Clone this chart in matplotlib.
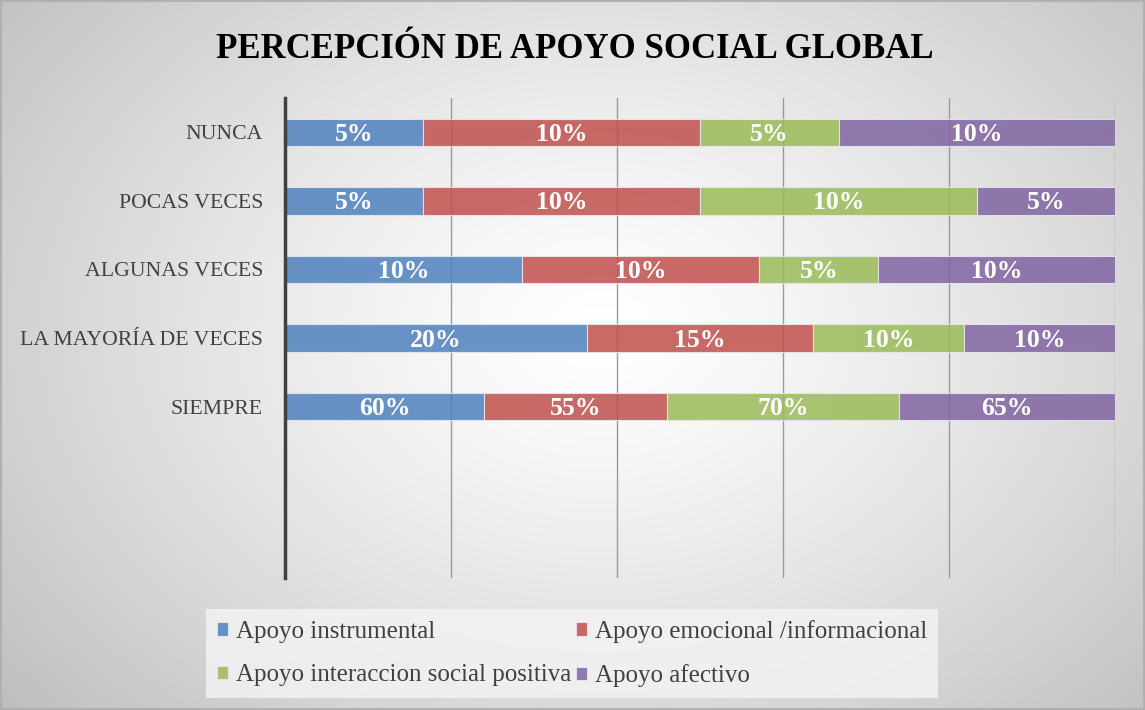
import numpy as np
import matplotlib.pyplot as plt

categorias = ["NUNCA", "POCAS VECES", "ALGUNAS VECES", "LA MAYORÍA DE VECES", "SIEMPRE"]
series = ["Apoyo instrumental", "Apoyo emocional /informacional",
          "Apoyo interaccion social positiva", "Apoyo afectivo"]
instrumental = [5, 5, 10, 20, 60]
emocional = [10, 10, 10, 15, 55]
interaccion = [5, 10, 5, 10, 70]
afectivo = [10, 5, 10, 10, 65]

colores = ["#4F81BD", "#C0504D", "#9BBB59", "#8064A2"]
serif = ["Liberation Serif", "DejaVu Serif"]

valores = np.array([instrumental, emocional, interaccion, afectivo], dtype=float)
totales = valores.sum(axis=0)
partes = valores / totales

fig = plt.figure(figsize=(11.45, 7.10), dpi=100)

# fondo con degradado radial
bg = fig.add_axes([0, 0, 1, 1], zorder=-10)
yy, xx = np.mgrid[0:710, 0:1145]
d = np.sqrt(((xx - 600) / 700.0) ** 2 + ((yy - 330) / 520.0) ** 2)
g = np.clip(1.0 - 0.22 * d ** 1.3, 0, 1)
bg.imshow(np.dstack([g, g, g]), aspect="auto", extent=[0, 1, 0, 1])
bg.axis("off")
bg.add_patch(plt.Rectangle((0.0005, 0.001), 0.999, 0.998, fill=False,
                           edgecolor="#b0b0b0", lw=1.5, transform=bg.transAxes))

ax = fig.add_axes([0.249, 0.186, 0.725, 0.676])
ax.patch.set_alpha(0)

# posiciones: 7 ranuras, las dos de abajo vacías
pos = np.arange(len(categorias))[::-1] + 2
izq = np.zeros(len(categorias))
barras = []
for i in range(len(series)):
    b = ax.barh(pos, partes[i], left=izq, height=0.4, color=colores[i], alpha=0.85,
                edgecolor="#e8e8f0", linewidth=0.8, label=series[i], zorder=3)
    barras.append(b)
    for j in range(len(categorias)):
        ax.text(izq[j] + partes[i][j] / 2, pos[j] - 0.03, f"{int(valores[i][j])}%",
                ha="center", va="center", color="white", fontsize=18.5,
                fontweight="bold", family=serif, zorder=4)
    izq = izq + partes[i]

ax.set_xlim(0, 1)
ax.set_ylim(-0.5, 6.5)
ax.set_xticks(np.arange(0, 1.01, 0.2))
ax.set_xticklabels([])
ax.tick_params(axis="x", length=0)
ax.grid(axis="x", color="#9a9a9a", lw=1, zorder=0)
ax.set_yticks(pos)
ax.set_yticklabels(categorias, fontsize=15.7, family=serif, color="#404040")
ax.tick_params(axis="y", length=0, pad=16)
for s in ["top", "right", "bottom"]:
    ax.spines[s].set_visible(False)
ax.spines["left"].set_linewidth(2.5)
ax.spines["left"].set_color("#404040")
ax.spines["left"].set_zorder(5)

fig.text(0.502, 0.93, "PERCEPCIÓN DE APOYO SOCIAL GLOBAL", ha="center", va="center",
         fontsize=25, fontweight="bold", family=serif, color="black")

orden = [0, 2, 1, 3]
leg = fig.legend([barras[k] for k in orden], [series[k] for k in orden],
                 loc="center", bbox_to_anchor=(0.4995, 0.0795), ncol=2, frameon=True,
                 fancybox=False, prop={"family": serif, "size": 18},
                 handlelength=0.45, handleheight=0.45, handletextpad=0.3,
                 columnspacing=0.2, labelspacing=0.85, borderpad=0.45, borderaxespad=0)
leg.get_frame().set_facecolor("#f4f4f4")
leg.get_frame().set_edgecolor("none")
for t in leg.get_texts():
    t.set_color("#404040")

fig.savefig("out.png", dpi=100)
